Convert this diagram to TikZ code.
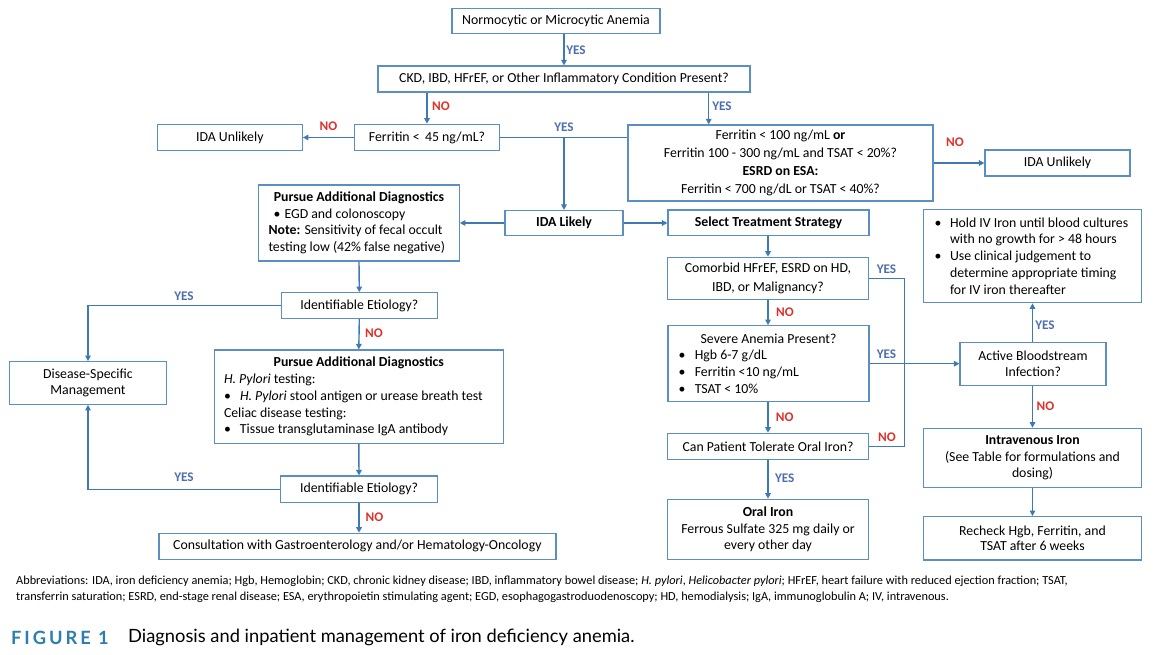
\documentclass[tikz,border=0pt]{standalone}
\usepackage{fontspec}
\setmainfont{Carlito}
\newfontfamily\capfont{Lato}
\newfontfamily\capfontsp[LetterSpace=16]{Lato}
\usetikzlibrary{arrows.meta,calc}
\definecolor{boxc}{HTML}{5B8EC2}
\definecolor{arrc}{HTML}{3E79B4}
\definecolor{yesc}{HTML}{4D6FB0}
\definecolor{noc}{HTML}{E0302A}
\definecolor{figc}{HTML}{2B7FAE}
\begin{document}
\begin{tikzpicture}[x=1pt,y=-1pt,
  font=\fontsize{13.8}{16.7}\selectfont,
  box/.style={draw=boxc, line width=1.2pt, fill=white, inner sep=0pt, align=center},
  lbox/.style={draw=boxc, line width=1.2pt, fill=white, inner sep=0pt, align=left},
  arr/.style={draw=arrc, line width=1.4pt, -{Triangle[length=5.5pt,width=5.5pt]}},
  ln/.style={draw=arrc, line width=1.4pt},
  yes/.style={text=yesc, font=\fontsize{13.2}{14}\selectfont\bfseries, inner sep=0pt},
  no/.style={text=noc, font=\fontsize{13.2}{14}\selectfont\bfseries, inner sep=0pt}]
\useasboundingbox[fill=white] (0,0) rectangle (1170,655);

% ---------- nodes ----------
\node[box, minimum width=208pt, minimum height=25pt] (norm) at (556,20.8) {Normocytic or Microcytic Anemia};
\node[box, minimum width=372pt, minimum height=26pt] (ckd) at (564,79) {CKD, IBD, HFrEF, or Other Inflammatory Condition Present?};
\node[box, minimum width=145pt, minimum height=26.5pt] (fer) at (427,137.5) {Ferritin <\, 45 ng/mL?};
\node[box, minimum width=145pt, minimum height=26.5pt] (unl1) at (229.8,137.5) {IDA Unlikely};
\node[box, minimum width=305pt, minimum height=76pt, font=\fontsize{13.8}{17.8}\selectfont] (big) at (780.5,163)
  {Ferritin < 100 ng/mL \textbf{or}\\ Ferritin 100 - 300 ng/mL and TSAT < 20\%?\\ \textbf{ESRD on ESA:}\\ Ferritin < 700 ng/dL or TSAT < 40\%?};
\node[box, minimum width=145pt, minimum height=26pt] (unl2) at (1057.5,163) {IDA Unlikely};
\node[box, minimum width=118pt, minimum height=25pt] (likely) at (564,223) {\textbf{IDA Likely}};
\node[lbox, minimum width=200.5pt, minimum height=76pt, font=\fontsize{13.8}{16.5}\selectfont] (pad1) at (359,223)
  {\makebox[181pt]{\textbf{Pursue Additional Diagnostics}}\\
   \hspace*{5pt}\makebox[11pt][l]{\textbullet}EGD and colonoscopy\\
   \textbf{Note:} Sensitivity of fecal occult\\
   testing low (42\% false negative)};
\node[box, minimum width=201pt, minimum height=25.7pt] (select) at (768.5,222.8) {\textbf{Select Treatment Strategy}};
\node[box, minimum width=156pt, minimum height=25.6pt] (ie1) at (359.3,305.5) {Identifiable Etiology?};
\node[box, minimum width=157pt, minimum height=42.6pt, font=\fontsize{13.8}{16}\selectfont] (dsm) at (88,383) {Disease-Specific\\ Management};
\node[lbox, minimum width=289pt, minimum height=93.3pt, font=\fontsize{13.8}{16.7}\selectfont] (pad2) at (358.8,396.7)
  {\makebox[269.6pt]{\textbf{Pursue Additional Diagnostics}}\\
   \textit{H. Pylori} testing:\\
   \makebox[16pt][l]{\textbullet}\textit{H. Pylori} stool antigen or urease breath test\\
   Celiac disease testing:\\
   \makebox[16pt][l]{\textbullet}Tissue transglutaminase IgA antibody};
\node[box, minimum width=157pt, minimum height=26.3pt] (ie2) at (359,489.2) {Identifiable Etiology?};
\node[box, minimum width=397pt, minimum height=26pt] (consult) at (357.4,546.3) {Consultation with Gastroenterology and/or Hematology-Oncology};
\node[box, minimum width=201pt, minimum height=42pt, font=\fontsize{13.8}{18.3}\selectfont] (comorbid) at (768,278.3) {Comorbid HFrEF, ESRD on HD,\\ IBD, or Malignancy?};
\node[lbox, minimum width=201pt, minimum height=76pt, font=\fontsize{13.8}{16.9}\selectfont] (severe) at (768.5,363.7)
  {\makebox[179.8pt]{Severe Anemia Present?}\\
   \makebox[16.2pt][l]{\textbullet}Hgb 6-7 g/dL\\
   \makebox[16.2pt][l]{\textbullet}Ferritin <10 ng/mL\\
   \makebox[16.2pt][l]{\textbullet}TSAT < 10\%};
\node[box, minimum width=201pt, minimum height=26pt] (tol) at (768,446.3) {Can Patient Tolerate Oral Iron?};
\node[box, minimum width=201pt, minimum height=60pt, font=\fontsize{13.8}{16.4}\selectfont] (oral) at (768,529.3) {\textbf{Oral Iron}\\ Ferrous Sulfate 325 mg daily or\\ every other day};
\node[lbox, minimum width=218pt, minimum height=93.4pt, font=\fontsize{13.8}{16.75}\selectfont] (hold) at (1032.5,256)
  {\makebox[195.9pt][l]{\makebox[15.5pt][l]{\textbullet}Hold IV Iron until blood cultures}\\
   \hspace*{15.5pt}with no growth for > 48 hours\\
   \makebox[15.5pt][l]{\textbullet}Use clinical judgement to\\
   \hspace*{15.5pt}determine appropriate timing\\
   \hspace*{15.5pt}for IV iron thereafter};
\node[box, minimum width=146pt, minimum height=43pt, font=\fontsize{13.8}{16}\selectfont] (active) at (1033,364.2) {Active Bloodstream\\ Infection?};
\node[box, minimum width=218pt, minimum height=59.4pt, font=\fontsize{13.8}{16.6}\selectfont] (ivi) at (1032.5,458) {\textbf{Intravenous Iron}\\ (See Table for formulations and\\ dosing)};
\node[box, minimum width=218pt, minimum height=43.3pt, font=\fontsize{13.8}{15.5}\selectfont] (recheck) at (1032.5,538.3) {Recheck Hgb, Ferritin, and\\ TSAT after 6 weeks};

% ---------- helper coordinates ----------
\coordinate (cb) at (708.7,0);
\coordinate (jx) at (904.4,0);

% ---------- connectors ----------
\draw[arr] (ckd.north |- norm.south) -- (ckd.north);
\draw[arr] (fer.north |- ckd.south) -- (fer.north);
\draw[arr] (cb |- ckd.south) -- (cb |- big.north);
\draw[arr] (fer.west) -- (unl1.east);
\draw[ln] (fer.east) -- (big.west |- fer.east);
\draw[arr] (likely.north |- fer.east) -- (likely.north);
\draw[arr] (big.east) -- (unl2.west);
\draw[arr] (likely.west) -- (pad1.east |- likely.west);
\draw[arr] (likely.east) -- (select.west |- likely.east);
\draw[arr] (pad1.south) -- (ie1.north);
\draw[arr] (ie1.west) -| (dsm.north);
\draw[arr] (ie1.south) -- (pad2.north);
\draw[arr] (pad2.south) -- (ie2.north);
\draw[arr] (ie2.west) -| (dsm.south);
\draw[arr] (ie2.south) -- (consult.north -| ie2.south);
\draw[arr] (select.south -| comorbid.north) -- (comorbid.north);
\draw[arr] (comorbid.south) -- (severe.north -| comorbid.south);
\draw[arr] (severe.south -| tol.north) -- (tol.north);
\draw[arr] (tol.south) -- (oral.north);
\draw[arr] (severe.east) -- (active.west |- severe.east);
\draw[ln] (comorbid.east) -| (jx |- severe.east);
\draw[ln] (tol.east) -| (jx |- severe.east);
\draw[arr] (active.north -| hold.south) -- (hold.south);
\draw[arr] (active.south -| ivi.north) -- (ivi.north);
\draw[arr] (ivi.south) -- (recheck.north);

% ---------- labels ----------
\node[yes] (l1) at (576,50.7) {YES};
\node[no] (l2) at (441,106) {NO};
\node[yes] (l3) at (722,106) {YES};
\node[no] (l4) at (328.5,126.7) {NO};
\node[yes] (l5) at (564,127) {YES};
\node[no] (l6) at (955,142.7) {NO};
\node[yes] (l7) at (184,296.7) {YES};
\node[no] (l8) at (374,333.3) {NO};
\node[yes] (l9) at (184,477.3) {YES};
\node[no] (l10) at (374.5,517.3) {NO};
\node[yes] (l11) at (886.5,269.3) {YES};
\node[no] (l12) at (785,312.7) {NO};
\node[yes] (l13) at (886.5,354.3) {YES};
\node[no] (l14) at (784.7,417.7) {NO};
\node[no] (l15) at (887,437.3) {NO};
\node[yes] (l16) at (784.7,478.3) {YES};
\node[yes] (l17) at (1045,325) {YES};
\node[no] (l18) at (1045.5,406) {NO};

% ---------- footnote & caption ----------
\node[anchor=west, inner sep=0pt, font=\fontsize{12.3}{14}\selectfont] (ab1) at (16,581.7)
  {Abbreviations: IDA, iron deficiency anemia; Hgb, Hemoglobin; CKD, chronic kidney disease; IBD, inflammatory bowel disease; \textit{H. pylori}, \textit{Helicobacter pylori}; HFrEF, heart failure with reduced ejection fraction; TSAT,};
\node[anchor=west, inner sep=0pt, font=\fontsize{12.3}{14}\selectfont] (ab2) at (16,597.3)
  {transferrin saturation; ESRD, end-stage renal disease; ESA, erythropoietin stimulating agent; EGD, esophagogastroduodenoscopy; HD, hemodialysis; IgA, immunoglobulin A; IV, intravenous.};
\node[anchor=west, inner sep=0pt, text=figc, font=\capfontsp\fontsize{18.3}{20}\selectfont\bfseries] (fig) at (11,637.7) {FIGURE 1};
\node[anchor=west, inner sep=0pt, font=\capfont\fontsize{18.3}{20}\selectfont] (cap) at (128,637.7) {Diagnosis and inpatient management of iron deficiency anemia.};
\end{tikzpicture}
\end{document}
